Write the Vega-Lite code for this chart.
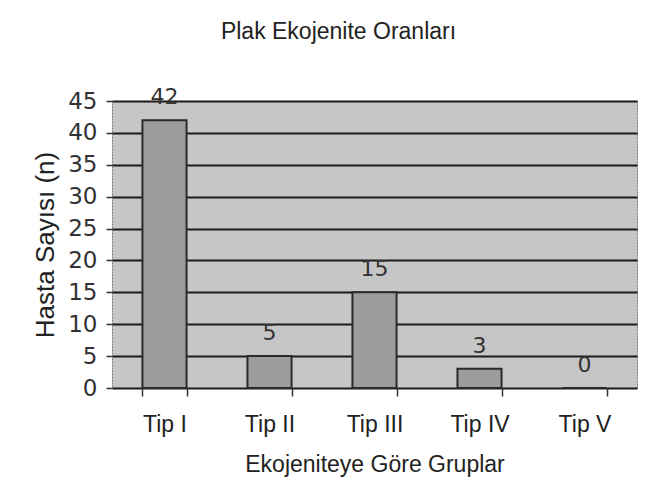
{
  "$schema": "https://vega.github.io/schema/vega-lite/v6.json",
  "autosize": "none",
  "width": 525,
  "height": 287,
  "padding": {"left": 112, "top": 101, "right": 19, "bottom": 105},
  "background": "#ffffff",
  "title": {
    "text": "Plak Ekojenite Oranları",
    "font": "Liberation Sans",
    "fontSize": 23,
    "fontWeight": "normal",
    "color": "#222222",
    "offset": 42,
    "dx": -36
  },
  "config": {
    "view": {"fill": "#c6c6c6", "stroke": "#777777", "strokeWidth": 1, "strokeDash": [2, 1]}
  },
  "data": {
    "values": [
      {"grup": "Tip I", "n": 42},
      {"grup": "Tip II", "n": 5},
      {"grup": "Tip III", "n": 15},
      {"grup": "Tip IV", "n": 3},
      {"grup": "Tip V", "n": 0}
    ]
  },
  "encoding": {
    "x": {
      "field": "grup",
      "type": "nominal",
      "sort": null,
      "scale": {"paddingInner": 0.58, "paddingOuter": 0.29},
      "axis": {
        "title": "Ekojeniteye Göre Gruplar",
        "titleFont": "Liberation Sans",
        "titleFontSize": 23,
        "titleFontWeight": "normal",
        "titleColor": "#222222",
        "titlePadding": 17,
        "labelFont": "Liberation Sans",
        "labelFontSize": 23,
        "labelColor": "#222222",
        "labelAngle": 0,
        "labelPadding": 17,
        "tickBand": "extent",
        "tickSize": 8,
        "tickWidth": 1.5,
        "tickColor": "#333333",
        "domain": false,
        "grid": false
      }
    },
    "y": {
      "field": "n",
      "type": "quantitative",
      "scale": {"domain": [0, 45], "nice": false},
      "axis": {
        "title": "Hasta Sayısı (n)",
        "titleFont": "Liberation Sans",
        "titleFontSize": 26,
        "titleFontWeight": "normal",
        "titleColor": "#222222",
        "titlePadding": 9,
        "values": [0, 5, 10, 15, 20, 25, 30, 35, 40, 45],
        "labelFont": "DejaVu Sans",
        "labelFontSize": 23,
        "labelColor": "#333333",
        "labelPadding": 9,
        "tickSize": 6,
        "tickWidth": 1.5,
        "tickColor": "#333333",
        "domain": false,
        "grid": true,
        "gridColor": "#1a1a1a",
        "gridWidth": 2,
        "gridOpacity": 1
      }
    }
  },
  "layer": [
    {
      "mark": {"type": "bar", "fill": "#9c9c9c", "stroke": "#2a2a2a", "strokeWidth": 2}
    },
    {
      "mark": {"type": "text", "baseline": "alphabetic", "dy": -16, "font": "DejaVu Sans", "fontSize": 22, "color": "#333333"},
      "encoding": {"text": {"field": "n", "type": "quantitative"}}
    }
  ]
}
